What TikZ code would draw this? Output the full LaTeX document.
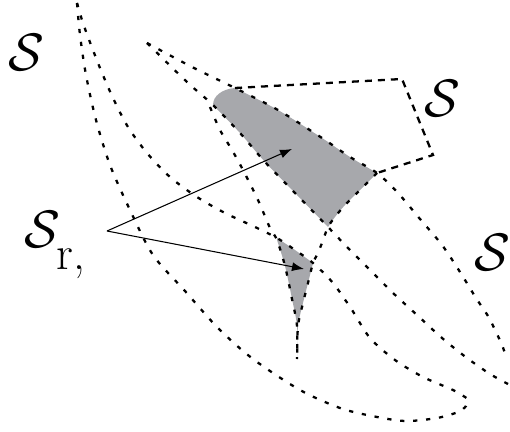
\RequirePackage{fix-cm}
\documentclass[tikz,border=0pt]{standalone}
\usepackage{xcolor}
\usepackage{amsmath, amssymb}
\usepackage{tikz}
\usetikzlibrary{
  arrows.meta
}
\definecolor{regiongray}{RGB}{167, 168, 172}
\tikzset{
  trace/.style={line width=1.3pt, dash pattern=on 2.4pt off 5pt, black},
  frame/.style={line width=1.3pt, dash pattern=on 4pt off 3.4pt, black},
  pointer/.style={-{Latex[length=2.4mm, width=1.8mm]}, line width=0.6pt, black},
  setlabel/.style={font=\fontsize{30}{36}\selectfont, inner sep=0pt}
}

\begin{document}
\begin{tikzpicture}[x=0.02cm, y=-0.02cm]
\useasboundingbox (0,0) rectangle (510,432);

% shaded regions
\fill[regiongray] plot[smooth] coordinates {(235,88) (278,110) (322,138) (350,157) (377,173)}
  -- plot[smooth] coordinates {(377,173) (360,190) (345,205) (335,217) (328,227)}
  -- plot[smooth] coordinates {(328,227) (297,195) (265,162) (240,133) (213,105)}
  .. controls (213,96) and (222,89) .. (235,88) -- cycle;
\fill[regiongray] (277,238) -- (295,250) -- (313,263)
  -- plot[smooth] coordinates {(313,263) (308,283) (303,303) (298,326) (297,359)}
  -- plot[smooth] coordinates {(297,359) (297,326) (292,299) (285,266) (277,240)} -- cycle;

% crescent
\draw[trace] plot[smooth] coordinates {(77,3) (80,35) (86,75) (96,120) (110,165) (130,210) (153,255) (185,291) (218,328) (253,359) (300,390) (340,408) (372,416) (405,421) (437,418) (458,412) (466,406) (468,399)};
\draw[trace] plot[smooth] coordinates {(77,3) (82,20) (88,37) (100,68) (113,98) (128,127) (147,153) (170,177) (197,197) (225,213) (255,227) (277,238) (295,250) (313,263) (333,283) (352,310) (370,338) (395,360) (423,377) (453,390) (468,399)};

% wedge
\draw[trace] plot[smooth] coordinates {(147,43) (192,67) (235,88) (278,110) (322,138) (350,157) (377,173) (398,193) (420,219) (442,245) (460,272) (476,298) (488,316) (496,332) (502,345) (507,359)};
\draw[trace] plot[smooth] coordinates {(147,43) (187,82) (213,105) (240,133) (265,162) (297,195) (328,227) (347,247) (370,270) (393,293) (417,315) (442,338) (467,358) (490,374) (508,384)};
\draw[trace] plot[smooth] coordinates {(210,107) (220,130) (232,150) (243,170) (258,200) (270,228) (277,240) (285,266) (292,299) (297,326) (297,359)};
\draw[trace] plot[smooth] coordinates {(377,173) (360,190) (345,205) (335,217) (328,227) (322,243) (317,255) (313,263) (308,283) (303,303) (298,326) (297,359)};
\draw[frame] (235,88) -- (402,79) -- (433,155) -- (377,173);

% labels
\node[setlabel] (stl) at (26,52) {$\mathcal{S}$};
\node[setlabel] (str) at (442,98) {$\mathcal{S}$};
\node[setlabel] (sbr) at (492,252) {$\mathcal{S}$};
\node[setlabel, anchor=base west] (sr) at (24,247) {$\mathcal{S}$\kern-2pt\raisebox{-13pt}{\fontsize{27}{30}\selectfont r,}};

% pointers
\coordinate (fork) at (107,231);
\coordinate (bigtip) at (292,149);
\coordinate (smalltip) at (304,269);
\draw[pointer] (fork) -- (bigtip);
\draw[pointer] (fork) -- (smalltip);

\end{tikzpicture}
\end{document}
